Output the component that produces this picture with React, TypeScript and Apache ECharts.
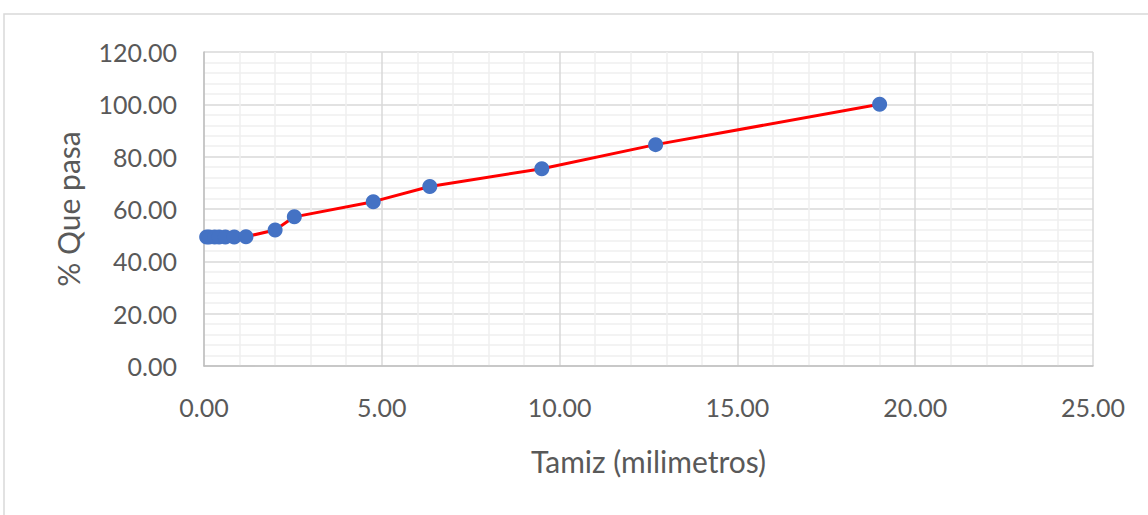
import React, { useEffect, useRef } from "react";
import * as echarts from "echarts";

const sieveMm = [0.075, 0.15, 0.3, 0.425, 0.6, 0.85, 1.18, 2.0, 2.54, 4.76, 6.35, 9.5, 12.7, 19.0];
const percentPassing = [49.3, 49.3, 49.3, 49.3, 49.3, 49.3, 49.4, 52.0, 57.0, 62.8, 68.6, 75.4, 84.6, 100.0];
const xTitle = "Tamiz (milimetros)";
const yTitle = "% Que pasa";

export default function App() {
  const ref = useRef<HTMLDivElement>(null);
  useEffect(() => {
    if (!ref.current) return;
    const chart = echarts.init(ref.current, undefined, { renderer: "svg" });
    const font = "Lato";
    const labelColor = "#595959";
    chart.setOption({
      animation: false,
      backgroundColor: "#ffffff",
      graphic: [
        {
          type: "rect",
          shape: { x: 4, y: 14, width: 1200, height: 600 },
          style: { fill: "none", stroke: "#d9d9d9", lineWidth: 1.5 },
          silent: true,
        },
      ],
      grid: { left: 204, top: 52, right: 55, bottom: 149, containLabel: false },
      xAxis: {
        type: "value",
        min: 0,
        max: 25,
        interval: 5,
        name: xTitle,
        nameLocation: "middle",
        nameGap: 80,
        nameTextStyle: { fontFamily: font, fontSize: 30, color: labelColor },
        axisLine: { show: true, lineStyle: { color: "#bfbfbf", width: 1.5 } },
        axisTick: { show: false },
        axisLabel: {
          fontFamily: font,
          fontSize: 25,
          color: labelColor,
          margin: 28,
          formatter: (v: number) => v.toFixed(2),
        },
        splitLine: { show: true, lineStyle: { color: "#d9d9d9", width: 1.5 } },
        minorTick: { show: false, splitNumber: 5 },
        minorSplitLine: { show: true, lineStyle: { color: "#efefef", width: 1.5 } },
      },
      yAxis: {
        type: "value",
        min: 0,
        max: 120,
        interval: 20,
        name: yTitle,
        nameLocation: "middle",
        nameGap: 121,
        nameRotate: 90,
        nameTextStyle: { fontFamily: font, fontSize: 30, color: labelColor },
        axisLine: { show: true, lineStyle: { color: "#bfbfbf", width: 1.5 } },
        axisTick: { show: false },
        axisLabel: {
          fontFamily: font,
          fontSize: 25,
          color: labelColor,
          margin: 27,
          formatter: (v: number) => v.toFixed(2),
        },
        splitLine: { show: true, lineStyle: { color: "#d9d9d9", width: 1.5 } },
        minorTick: { show: false, splitNumber: 5 },
        minorSplitLine: { show: true, lineStyle: { color: "#efefef", width: 1.5 } },
      },
      series: [
        {
          type: "line",
          data: sieveMm.map((x, i) => [x, percentPassing[i]]),
          symbol: "circle",
          symbolSize: 15,
          itemStyle: { color: "#4472C4" },
          lineStyle: { color: "#ff0000", width: 3 },
          z: 3,
        },
      ],
    });
    return () => chart.dispose();
  }, []);
  return (
    <div
      ref={ref}
      style={{ position: "absolute", left: 0, top: 0, width: 1148, height: 515 }}
    />
  );
}
